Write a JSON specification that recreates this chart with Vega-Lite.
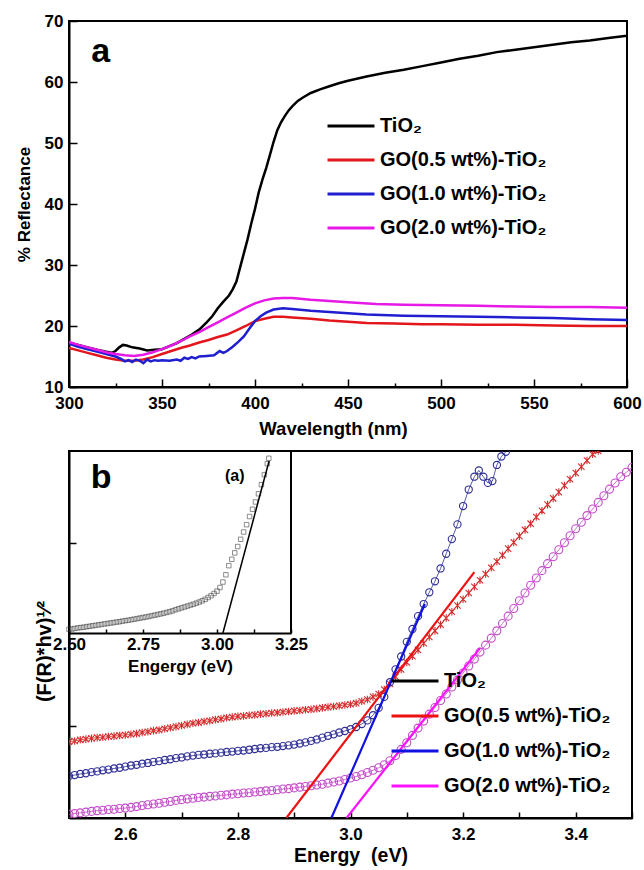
{
"$schema": "https://vega.github.io/schema/vega-lite/v6.json",
"bounds": "flush",
"spacing": 64,
"padding": {"left": 14, "top": 11, "right": 0, "bottom": 0},
"resolve": {"scale": {"color": "independent", "stroke": "independent"}, "legend": {"color": "independent"}},
"config": {
  "font": "Liberation Sans",
  "view": {"stroke": "#000", "strokeWidth": 2},
  "axis": {"grid": false, "domainColor": "#000", "domainWidth": 2, "tickColor": "#000", "tickWidth": 1.5,
    "labelFont": "Liberation Sans", "labelFontWeight": "bold", "labelFontSize": 17, "labelColor": "#000",
    "titleFont": "Liberation Sans", "titleFontWeight": "bold", "titleFontSize": 17, "titleColor": "#000",
    "labelFlush": false, "labelOverlap": false}
},
"datasets": {
"refl": [
{"s":"TiO₂","x":300,"y":17.25},{"s":"TiO₂","x":305,"y":16.9},{"s":"TiO₂","x":310,"y":16.5},{"s":"TiO₂","x":315,"y":16.1},{"s":"TiO₂","x":320,"y":15.8},{"s":"TiO₂","x":323,"y":15.6},{"s":"TiO₂","x":325,"y":15.9},{"s":"TiO₂","x":327,"y":16.5},{"s":"TiO₂","x":329,"y":16.9},{"s":"TiO₂","x":331,"y":16.8},{"s":"TiO₂","x":334,"y":16.5},{"s":"TiO₂","x":338,"y":16.3},{"s":"TiO₂","x":342,"y":16.0},{"s":"TiO₂","x":346,"y":16.1},{"s":"TiO₂","x":350,"y":16.2},{"s":"TiO₂","x":354,"y":16.7},{"s":"TiO₂","x":358,"y":17.2},{"s":"TiO₂","x":362,"y":17.9},{"s":"TiO₂","x":366,"y":18.6},{"s":"TiO₂","x":370,"y":19.4},{"s":"TiO₂","x":374,"y":20.6},{"s":"TiO₂","x":377,"y":21.6},{"s":"TiO₂","x":380,"y":22.9},{"s":"TiO₂","x":383,"y":24.0},{"s":"TiO₂","x":386,"y":25.0},{"s":"TiO₂","x":388,"y":26.0},{"s":"TiO₂","x":390,"y":27.3},{"s":"TiO₂","x":392,"y":29.6},{"s":"TiO₂","x":394,"y":31.9},{"s":"TiO₂","x":396,"y":34.2},{"s":"TiO₂","x":398,"y":36.8},{"s":"TiO₂","x":400,"y":39.2},{"s":"TiO₂","x":402,"y":41.9},{"s":"TiO₂","x":404,"y":44.0},{"s":"TiO₂","x":406,"y":45.9},{"s":"TiO₂","x":408,"y":48.0},{"s":"TiO₂","x":410,"y":50.2},{"s":"TiO₂","x":412,"y":52.1},{"s":"TiO₂","x":414,"y":53.4},{"s":"TiO₂","x":416,"y":54.4},{"s":"TiO₂","x":418,"y":55.3},{"s":"TiO₂","x":420,"y":56.0},{"s":"TiO₂","x":423,"y":56.9},{"s":"TiO₂","x":426,"y":57.5},{"s":"TiO₂","x":430,"y":58.2},{"s":"TiO₂","x":435,"y":58.8},{"s":"TiO₂","x":440,"y":59.3},{"s":"TiO₂","x":445,"y":59.8},{"s":"TiO₂","x":450,"y":60.2},{"s":"TiO₂","x":460,"y":60.9},{"s":"TiO₂","x":470,"y":61.5},{"s":"TiO₂","x":480,"y":62.0},{"s":"TiO₂","x":490,"y":62.6},{"s":"TiO₂","x":500,"y":63.2},{"s":"TiO₂","x":510,"y":63.8},{"s":"TiO₂","x":520,"y":64.3},{"s":"TiO₂","x":530,"y":64.9},{"s":"TiO₂","x":540,"y":65.3},{"s":"TiO₂","x":550,"y":65.7},{"s":"TiO₂","x":560,"y":66.1},{"s":"TiO₂","x":570,"y":66.5},{"s":"TiO₂","x":580,"y":66.8},{"s":"TiO₂","x":590,"y":67.2},{"s":"TiO₂","x":600,"y":67.6},
{"s":"GO(0.5 wt%)-TiO₂","x":300,"y":16.4},{"s":"GO(0.5 wt%)-TiO₂","x":305,"y":16.0},{"s":"GO(0.5 wt%)-TiO₂","x":310,"y":15.6},{"s":"GO(0.5 wt%)-TiO₂","x":315,"y":15.2},{"s":"GO(0.5 wt%)-TiO₂","x":320,"y":14.8},{"s":"GO(0.5 wt%)-TiO₂","x":325,"y":14.5},{"s":"GO(0.5 wt%)-TiO₂","x":330,"y":14.3},{"s":"GO(0.5 wt%)-TiO₂","x":335,"y":14.3},{"s":"GO(0.5 wt%)-TiO₂","x":340,"y":14.5},{"s":"GO(0.5 wt%)-TiO₂","x":345,"y":14.9},{"s":"GO(0.5 wt%)-TiO₂","x":350,"y":15.4},{"s":"GO(0.5 wt%)-TiO₂","x":355,"y":15.9},{"s":"GO(0.5 wt%)-TiO₂","x":360,"y":16.4},{"s":"GO(0.5 wt%)-TiO₂","x":365,"y":16.8},{"s":"GO(0.5 wt%)-TiO₂","x":370,"y":17.3},{"s":"GO(0.5 wt%)-TiO₂","x":375,"y":17.7},{"s":"GO(0.5 wt%)-TiO₂","x":380,"y":18.2},{"s":"GO(0.5 wt%)-TiO₂","x":385,"y":18.6},{"s":"GO(0.5 wt%)-TiO₂","x":390,"y":19.3},{"s":"GO(0.5 wt%)-TiO₂","x":395,"y":20.0},{"s":"GO(0.5 wt%)-TiO₂","x":400,"y":20.8},{"s":"GO(0.5 wt%)-TiO₂","x":405,"y":21.2},{"s":"GO(0.5 wt%)-TiO₂","x":410,"y":21.5},{"s":"GO(0.5 wt%)-TiO₂","x":415,"y":21.5},{"s":"GO(0.5 wt%)-TiO₂","x":420,"y":21.4},{"s":"GO(0.5 wt%)-TiO₂","x":430,"y":21.2},{"s":"GO(0.5 wt%)-TiO₂","x":440,"y":20.9},{"s":"GO(0.5 wt%)-TiO₂","x":450,"y":20.7},{"s":"GO(0.5 wt%)-TiO₂","x":460,"y":20.5},{"s":"GO(0.5 wt%)-TiO₂","x":475,"y":20.4},{"s":"GO(0.5 wt%)-TiO₂","x":490,"y":20.3},{"s":"GO(0.5 wt%)-TiO₂","x":500,"y":20.3},{"s":"GO(0.5 wt%)-TiO₂","x":520,"y":20.2},{"s":"GO(0.5 wt%)-TiO₂","x":540,"y":20.2},{"s":"GO(0.5 wt%)-TiO₂","x":560,"y":20.1},{"s":"GO(0.5 wt%)-TiO₂","x":580,"y":20.0},{"s":"GO(0.5 wt%)-TiO₂","x":600,"y":20.0},
{"s":"GO(1.0 wt%)-TiO₂","x":300,"y":17.1},{"s":"GO(1.0 wt%)-TiO₂","x":305,"y":16.6},{"s":"GO(1.0 wt%)-TiO₂","x":310,"y":16.2},{"s":"GO(1.0 wt%)-TiO₂","x":315,"y":15.8},{"s":"GO(1.0 wt%)-TiO₂","x":320,"y":15.4},{"s":"GO(1.0 wt%)-TiO₂","x":325,"y":15.0},{"s":"GO(1.0 wt%)-TiO₂","x":328,"y":14.6},{"s":"GO(1.0 wt%)-TiO₂","x":330,"y":14.2},{"s":"GO(1.0 wt%)-TiO₂","x":332,"y":14.4},{"s":"GO(1.0 wt%)-TiO₂","x":334,"y":14.1},{"s":"GO(1.0 wt%)-TiO₂","x":336,"y":14.5},{"s":"GO(1.0 wt%)-TiO₂","x":338,"y":14.3},{"s":"GO(1.0 wt%)-TiO₂","x":340,"y":13.9},{"s":"GO(1.0 wt%)-TiO₂","x":342,"y":14.5},{"s":"GO(1.0 wt%)-TiO₂","x":344,"y":14.2},{"s":"GO(1.0 wt%)-TiO₂","x":346,"y":14.4},{"s":"GO(1.0 wt%)-TiO₂","x":348,"y":14.3},{"s":"GO(1.0 wt%)-TiO₂","x":350,"y":14.4},{"s":"GO(1.0 wt%)-TiO₂","x":354,"y":14.3},{"s":"GO(1.0 wt%)-TiO₂","x":358,"y":14.5},{"s":"GO(1.0 wt%)-TiO₂","x":360,"y":14.3},{"s":"GO(1.0 wt%)-TiO₂","x":362,"y":14.8},{"s":"GO(1.0 wt%)-TiO₂","x":364,"y":14.6},{"s":"GO(1.0 wt%)-TiO₂","x":366,"y":14.9},{"s":"GO(1.0 wt%)-TiO₂","x":368,"y":14.7},{"s":"GO(1.0 wt%)-TiO₂","x":370,"y":15.0},{"s":"GO(1.0 wt%)-TiO₂","x":374,"y":15.1},{"s":"GO(1.0 wt%)-TiO₂","x":378,"y":15.2},{"s":"GO(1.0 wt%)-TiO₂","x":381,"y":15.9},{"s":"GO(1.0 wt%)-TiO₂","x":383,"y":15.6},{"s":"GO(1.0 wt%)-TiO₂","x":385,"y":15.9},{"s":"GO(1.0 wt%)-TiO₂","x":388,"y":16.6},{"s":"GO(1.0 wt%)-TiO₂","x":391,"y":17.4},{"s":"GO(1.0 wt%)-TiO₂","x":394,"y":18.3},{"s":"GO(1.0 wt%)-TiO₂","x":397,"y":19.6},{"s":"GO(1.0 wt%)-TiO₂","x":400,"y":20.8},{"s":"GO(1.0 wt%)-TiO₂","x":403,"y":21.6},{"s":"GO(1.0 wt%)-TiO₂","x":406,"y":22.2},{"s":"GO(1.0 wt%)-TiO₂","x":410,"y":22.7},{"s":"GO(1.0 wt%)-TiO₂","x":415,"y":22.9},{"s":"GO(1.0 wt%)-TiO₂","x":420,"y":22.8},{"s":"GO(1.0 wt%)-TiO₂","x":430,"y":22.5},{"s":"GO(1.0 wt%)-TiO₂","x":440,"y":22.3},{"s":"GO(1.0 wt%)-TiO₂","x":450,"y":22.1},{"s":"GO(1.0 wt%)-TiO₂","x":460,"y":21.9},{"s":"GO(1.0 wt%)-TiO₂","x":480,"y":21.7},{"s":"GO(1.0 wt%)-TiO₂","x":500,"y":21.6},{"s":"GO(1.0 wt%)-TiO₂","x":520,"y":21.5},{"s":"GO(1.0 wt%)-TiO₂","x":540,"y":21.4},{"s":"GO(1.0 wt%)-TiO₂","x":560,"y":21.3},{"s":"GO(1.0 wt%)-TiO₂","x":580,"y":21.1},{"s":"GO(1.0 wt%)-TiO₂","x":600,"y":21.0},
{"s":"GO(2.0 wt%)-TiO₂","x":300,"y":17.4},{"s":"GO(2.0 wt%)-TiO₂","x":305,"y":16.9},{"s":"GO(2.0 wt%)-TiO₂","x":310,"y":16.5},{"s":"GO(2.0 wt%)-TiO₂","x":315,"y":16.1},{"s":"GO(2.0 wt%)-TiO₂","x":320,"y":15.7},{"s":"GO(2.0 wt%)-TiO₂","x":325,"y":15.4},{"s":"GO(2.0 wt%)-TiO₂","x":330,"y":15.2},{"s":"GO(2.0 wt%)-TiO₂","x":335,"y":15.1},{"s":"GO(2.0 wt%)-TiO₂","x":340,"y":15.3},{"s":"GO(2.0 wt%)-TiO₂","x":345,"y":15.7},{"s":"GO(2.0 wt%)-TiO₂","x":350,"y":16.2},{"s":"GO(2.0 wt%)-TiO₂","x":355,"y":16.8},{"s":"GO(2.0 wt%)-TiO₂","x":360,"y":17.5},{"s":"GO(2.0 wt%)-TiO₂","x":365,"y":18.3},{"s":"GO(2.0 wt%)-TiO₂","x":370,"y":19.0},{"s":"GO(2.0 wt%)-TiO₂","x":375,"y":19.8},{"s":"GO(2.0 wt%)-TiO₂","x":380,"y":20.6},{"s":"GO(2.0 wt%)-TiO₂","x":385,"y":21.4},{"s":"GO(2.0 wt%)-TiO₂","x":390,"y":22.2},{"s":"GO(2.0 wt%)-TiO₂","x":395,"y":23.0},{"s":"GO(2.0 wt%)-TiO₂","x":400,"y":23.7},{"s":"GO(2.0 wt%)-TiO₂","x":405,"y":24.2},{"s":"GO(2.0 wt%)-TiO₂","x":410,"y":24.5},{"s":"GO(2.0 wt%)-TiO₂","x":415,"y":24.6},{"s":"GO(2.0 wt%)-TiO₂","x":420,"y":24.6},{"s":"GO(2.0 wt%)-TiO₂","x":430,"y":24.3},{"s":"GO(2.0 wt%)-TiO₂","x":440,"y":24.1},{"s":"GO(2.0 wt%)-TiO₂","x":450,"y":23.9},{"s":"GO(2.0 wt%)-TiO₂","x":465,"y":23.6},{"s":"GO(2.0 wt%)-TiO₂","x":480,"y":23.5},{"s":"GO(2.0 wt%)-TiO₂","x":500,"y":23.4},{"s":"GO(2.0 wt%)-TiO₂","x":520,"y":23.3},{"s":"GO(2.0 wt%)-TiO₂","x":540,"y":23.2},{"s":"GO(2.0 wt%)-TiO₂","x":560,"y":23.1},{"s":"GO(2.0 wt%)-TiO₂","x":580,"y":23.1},{"s":"GO(2.0 wt%)-TiO₂","x":600,"y":23.0}
],
"km": [
{"s":"a","x":2.50,"y":2.08},{"s":"a","x":2.51,"y":2.1},{"s":"a","x":2.52,"y":2.13},{"s":"a","x":2.53,"y":2.15},{"s":"a","x":2.54,"y":2.17},{"s":"a","x":2.55,"y":2.19},{"s":"a","x":2.56,"y":2.2},{"s":"a","x":2.57,"y":2.22},{"s":"a","x":2.58,"y":2.23},{"s":"a","x":2.59,"y":2.25},{"s":"a","x":2.60,"y":2.26},{"s":"a","x":2.61,"y":2.28},{"s":"a","x":2.62,"y":2.3},{"s":"a","x":2.63,"y":2.33},{"s":"a","x":2.64,"y":2.35},{"s":"a","x":2.65,"y":2.38},{"s":"a","x":2.66,"y":2.4},{"s":"a","x":2.67,"y":2.43},{"s":"a","x":2.68,"y":2.46},{"s":"a","x":2.69,"y":2.49},{"s":"a","x":2.70,"y":2.52},{"s":"a","x":2.71,"y":2.55},{"s":"a","x":2.72,"y":2.58},{"s":"a","x":2.73,"y":2.6},{"s":"a","x":2.74,"y":2.63},{"s":"a","x":2.75,"y":2.65},{"s":"a","x":2.76,"y":2.68},{"s":"a","x":2.77,"y":2.7},{"s":"a","x":2.78,"y":2.73},{"s":"a","x":2.79,"y":2.75},{"s":"a","x":2.80,"y":2.77},{"s":"a","x":2.81,"y":2.78},{"s":"a","x":2.82,"y":2.8},{"s":"a","x":2.83,"y":2.81},{"s":"a","x":2.84,"y":2.83},{"s":"a","x":2.85,"y":2.84},{"s":"a","x":2.86,"y":2.86},{"s":"a","x":2.87,"y":2.87},{"s":"a","x":2.88,"y":2.89},{"s":"a","x":2.89,"y":2.9},{"s":"a","x":2.90,"y":2.92},{"s":"a","x":2.91,"y":2.93},{"s":"a","x":2.92,"y":2.95},{"s":"a","x":2.93,"y":2.96},{"s":"a","x":2.94,"y":2.98},{"s":"a","x":2.95,"y":3.0},{"s":"a","x":2.96,"y":3.02},{"s":"a","x":2.97,"y":3.04},{"s":"a","x":2.98,"y":3.06},{"s":"a","x":2.99,"y":3.08},{"s":"a","x":3.00,"y":3.1},{"s":"a","x":3.01,"y":3.13},{"s":"a","x":3.02,"y":3.18},{"s":"a","x":3.03,"y":3.23},{"s":"a","x":3.04,"y":3.3},{"s":"a","x":3.05,"y":3.38},{"s":"a","x":3.06,"y":3.5},{"s":"a","x":3.07,"y":3.66},{"s":"a","x":3.08,"y":3.85},{"s":"a","x":3.09,"y":4.05},{"s":"a","x":3.10,"y":4.24},{"s":"a","x":3.11,"y":4.41},{"s":"a","x":3.12,"y":4.58},{"s":"a","x":3.13,"y":4.76},{"s":"a","x":3.14,"y":4.93},{"s":"a","x":3.15,"y":5.1},{"s":"a","x":3.16,"y":5.27},{"s":"a","x":3.17,"y":5.45},{"s":"a","x":3.18,"y":5.62},{"s":"a","x":3.19,"y":5.79},{"s":"a","x":3.20,"y":5.96},{"s":"a","x":3.21,"y":6.13},{"s":"a","x":3.22,"y":6.3},{"s":"a","x":3.23,"y":6.48},{"s":"a","x":3.24,"y":6.65},{"s":"a","x":3.25,"y":6.82},{"s":"a","x":3.26,"y":6.99},{"s":"a","x":3.27,"y":7.16},{"s":"a","x":3.28,"y":7.34},{"s":"a","x":3.29,"y":7.51},{"s":"a","x":3.30,"y":7.68},{"s":"a","x":3.31,"y":7.85},{"s":"a","x":3.32,"y":8.02},{"s":"a","x":3.33,"y":8.2},{"s":"a","x":3.34,"y":8.37},{"s":"a","x":3.35,"y":8.54},{"s":"a","x":3.36,"y":8.71},{"s":"a","x":3.37,"y":8.88},{"s":"a","x":3.38,"y":9.06},{"s":"a","x":3.39,"y":9.23},{"s":"a","x":3.40,"y":9.4},{"s":"a","x":3.41,"y":9.57},{"s":"a","x":3.42,"y":9.74},{"s":"a","x":3.43,"y":9.91},{"s":"a","x":3.44,"y":10.0},
{"s":"b","x":2.50,"y":1.14},{"s":"b","x":2.51,"y":1.17},{"s":"b","x":2.52,"y":1.2},{"s":"b","x":2.53,"y":1.22},{"s":"b","x":2.54,"y":1.25},{"s":"b","x":2.55,"y":1.27},{"s":"b","x":2.56,"y":1.3},{"s":"b","x":2.57,"y":1.32},{"s":"b","x":2.58,"y":1.35},{"s":"b","x":2.59,"y":1.37},{"s":"b","x":2.60,"y":1.4},{"s":"b","x":2.61,"y":1.43},{"s":"b","x":2.62,"y":1.45},{"s":"b","x":2.63,"y":1.48},{"s":"b","x":2.64,"y":1.5},{"s":"b","x":2.65,"y":1.53},{"s":"b","x":2.66,"y":1.55},{"s":"b","x":2.67,"y":1.58},{"s":"b","x":2.68,"y":1.6},{"s":"b","x":2.69,"y":1.63},{"s":"b","x":2.70,"y":1.65},{"s":"b","x":2.71,"y":1.68},{"s":"b","x":2.72,"y":1.7},{"s":"b","x":2.73,"y":1.72},{"s":"b","x":2.74,"y":1.73},{"s":"b","x":2.75,"y":1.75},{"s":"b","x":2.76,"y":1.76},{"s":"b","x":2.77,"y":1.78},{"s":"b","x":2.78,"y":1.8},{"s":"b","x":2.79,"y":1.81},{"s":"b","x":2.80,"y":1.83},{"s":"b","x":2.81,"y":1.84},{"s":"b","x":2.82,"y":1.86},{"s":"b","x":2.83,"y":1.88},{"s":"b","x":2.84,"y":1.9},{"s":"b","x":2.85,"y":1.91},{"s":"b","x":2.86,"y":1.93},{"s":"b","x":2.87,"y":1.94},{"s":"b","x":2.88,"y":1.96},{"s":"b","x":2.89,"y":1.98},{"s":"b","x":2.90,"y":2.0},{"s":"b","x":2.91,"y":2.03},{"s":"b","x":2.92,"y":2.06},{"s":"b","x":2.93,"y":2.1},{"s":"b","x":2.94,"y":2.14},{"s":"b","x":2.95,"y":2.19},{"s":"b","x":2.96,"y":2.24},{"s":"b","x":2.97,"y":2.28},{"s":"b","x":2.98,"y":2.33},{"s":"b","x":2.99,"y":2.37},{"s":"b","x":3.00,"y":2.42},{"s":"b","x":3.01,"y":2.48},{"s":"b","x":3.02,"y":2.56},{"s":"b","x":3.03,"y":2.66},{"s":"b","x":3.04,"y":2.8},{"s":"b","x":3.05,"y":3.0},{"s":"b","x":3.06,"y":3.3},{"s":"b","x":3.07,"y":3.7},{"s":"b","x":3.08,"y":4.05},{"s":"b","x":3.09,"y":4.4},{"s":"b","x":3.10,"y":4.8},{"s":"b","x":3.11,"y":5.15},{"s":"b","x":3.12,"y":5.5},{"s":"b","x":3.13,"y":5.83},{"s":"b","x":3.14,"y":6.15},{"s":"b","x":3.15,"y":6.45},{"s":"b","x":3.16,"y":6.8},{"s":"b","x":3.17,"y":7.2},{"s":"b","x":3.18,"y":7.6},{"s":"b","x":3.19,"y":8.0},{"s":"b","x":3.20,"y":8.5},{"s":"b","x":3.21,"y":8.95},{"s":"b","x":3.22,"y":9.3},{"s":"b","x":3.228,"y":9.47},{"s":"b","x":3.236,"y":9.3},{"s":"b","x":3.244,"y":9.13},{"s":"b","x":3.252,"y":9.18},{"s":"b","x":3.26,"y":9.62},{"s":"b","x":3.268,"y":9.85},{"s":"b","x":3.276,"y":9.98},
{"s":"c","x":2.50,"y":0.1},{"s":"c","x":2.51,"y":0.12},{"s":"c","x":2.52,"y":0.14},{"s":"c","x":2.53,"y":0.16},{"s":"c","x":2.54,"y":0.18},{"s":"c","x":2.55,"y":0.2},{"s":"c","x":2.56,"y":0.21},{"s":"c","x":2.57,"y":0.23},{"s":"c","x":2.58,"y":0.24},{"s":"c","x":2.59,"y":0.26},{"s":"c","x":2.60,"y":0.27},{"s":"c","x":2.61,"y":0.29},{"s":"c","x":2.62,"y":0.31},{"s":"c","x":2.63,"y":0.34},{"s":"c","x":2.64,"y":0.36},{"s":"c","x":2.65,"y":0.38},{"s":"c","x":2.66,"y":0.4},{"s":"c","x":2.67,"y":0.43},{"s":"c","x":2.68,"y":0.45},{"s":"c","x":2.69,"y":0.48},{"s":"c","x":2.70,"y":0.5},{"s":"c","x":2.71,"y":0.52},{"s":"c","x":2.72,"y":0.54},{"s":"c","x":2.73,"y":0.56},{"s":"c","x":2.74,"y":0.57},{"s":"c","x":2.75,"y":0.59},{"s":"c","x":2.76,"y":0.6},{"s":"c","x":2.77,"y":0.62},{"s":"c","x":2.78,"y":0.63},{"s":"c","x":2.79,"y":0.65},{"s":"c","x":2.80,"y":0.66},{"s":"c","x":2.81,"y":0.68},{"s":"c","x":2.82,"y":0.69},{"s":"c","x":2.83,"y":0.71},{"s":"c","x":2.84,"y":0.72},{"s":"c","x":2.85,"y":0.74},{"s":"c","x":2.86,"y":0.75},{"s":"c","x":2.87,"y":0.77},{"s":"c","x":2.88,"y":0.79},{"s":"c","x":2.89,"y":0.8},{"s":"c","x":2.90,"y":0.82},{"s":"c","x":2.91,"y":0.84},{"s":"c","x":2.92,"y":0.86},{"s":"c","x":2.93,"y":0.88},{"s":"c","x":2.94,"y":0.9},{"s":"c","x":2.95,"y":0.92},{"s":"c","x":2.96,"y":0.95},{"s":"c","x":2.97,"y":0.98},{"s":"c","x":2.98,"y":1.01},{"s":"c","x":2.99,"y":1.05},{"s":"c","x":3.00,"y":1.09},{"s":"c","x":3.01,"y":1.13},{"s":"c","x":3.02,"y":1.18},{"s":"c","x":3.03,"y":1.24},{"s":"c","x":3.04,"y":1.3},{"s":"c","x":3.05,"y":1.37},{"s":"c","x":3.06,"y":1.45},{"s":"c","x":3.07,"y":1.56},{"s":"c","x":3.08,"y":1.7},{"s":"c","x":3.09,"y":1.87},{"s":"c","x":3.10,"y":2.05},{"s":"c","x":3.11,"y":2.25},{"s":"c","x":3.12,"y":2.45},{"s":"c","x":3.13,"y":2.64},{"s":"c","x":3.14,"y":2.83},{"s":"c","x":3.15,"y":3.01},{"s":"c","x":3.16,"y":3.2},{"s":"c","x":3.17,"y":3.38},{"s":"c","x":3.18,"y":3.57},{"s":"c","x":3.19,"y":3.76},{"s":"c","x":3.20,"y":3.95},{"s":"c","x":3.21,"y":4.14},{"s":"c","x":3.22,"y":4.33},{"s":"c","x":3.23,"y":4.52},{"s":"c","x":3.24,"y":4.71},{"s":"c","x":3.25,"y":4.9},{"s":"c","x":3.26,"y":5.1},{"s":"c","x":3.27,"y":5.3},{"s":"c","x":3.28,"y":5.5},{"s":"c","x":3.29,"y":5.71},{"s":"c","x":3.30,"y":5.92},{"s":"c","x":3.31,"y":6.13},{"s":"c","x":3.32,"y":6.34},{"s":"c","x":3.33,"y":6.54},{"s":"c","x":3.34,"y":6.74},{"s":"c","x":3.35,"y":6.93},{"s":"c","x":3.36,"y":7.12},{"s":"c","x":3.37,"y":7.31},{"s":"c","x":3.38,"y":7.5},{"s":"c","x":3.39,"y":7.69},{"s":"c","x":3.40,"y":7.88},{"s":"c","x":3.41,"y":8.06},{"s":"c","x":3.42,"y":8.24},{"s":"c","x":3.43,"y":8.42},{"s":"c","x":3.44,"y":8.6},{"s":"c","x":3.45,"y":8.78},{"s":"c","x":3.46,"y":8.96},{"s":"c","x":3.47,"y":9.13},{"s":"c","x":3.48,"y":9.3},{"s":"c","x":3.49,"y":9.42},{"s":"c","x":3.50,"y":9.55}
],
"fit": [
{"g":"GO(0.5 wt%)-TiO₂","x":2.886,"y":0},{"g":"GO(0.5 wt%)-TiO₂","x":3.22,"y":6.7},
{"g":"GO(1.0 wt%)-TiO₂","x":2.966,"y":0},{"g":"GO(1.0 wt%)-TiO₂","x":3.132,"y":5.83},
{"g":"GO(2.0 wt%)-TiO₂","x":2.993,"y":0},{"g":"GO(2.0 wt%)-TiO₂","x":3.23,"y":4.63}
],
"ins": [
{"x":2.50,"y":0.2},{"x":2.51,"y":0.22},{"x":2.52,"y":0.25},{"x":2.53,"y":0.28},{"x":2.54,"y":0.3},{"x":2.55,"y":0.32},{"x":2.56,"y":0.35},{"x":2.57,"y":0.37},{"x":2.58,"y":0.4},{"x":2.59,"y":0.42},{"x":2.60,"y":0.45},{"x":2.61,"y":0.47},{"x":2.62,"y":0.5},{"x":2.63,"y":0.52},{"x":2.64,"y":0.55},{"x":2.65,"y":0.57},{"x":2.66,"y":0.6},{"x":2.67,"y":0.62},{"x":2.68,"y":0.65},{"x":2.69,"y":0.68},{"x":2.70,"y":0.7},{"x":2.71,"y":0.73},{"x":2.72,"y":0.76},{"x":2.73,"y":0.79},{"x":2.74,"y":0.82},{"x":2.75,"y":0.85},{"x":2.76,"y":0.88},{"x":2.77,"y":0.91},{"x":2.78,"y":0.95},{"x":2.79,"y":0.98},{"x":2.80,"y":1.02},{"x":2.81,"y":1.05},{"x":2.82,"y":1.09},{"x":2.83,"y":1.13},{"x":2.84,"y":1.17},{"x":2.85,"y":1.22},{"x":2.86,"y":1.28},{"x":2.87,"y":1.33},{"x":2.88,"y":1.38},{"x":2.89,"y":1.43},{"x":2.90,"y":1.48},{"x":2.91,"y":1.53},{"x":2.92,"y":1.58},{"x":2.93,"y":1.64},{"x":2.94,"y":1.7},{"x":2.95,"y":1.77},{"x":2.96,"y":1.85},{"x":2.97,"y":1.95},{"x":2.98,"y":2.05},{"x":2.99,"y":2.17},{"x":3.00,"y":2.3},{"x":3.01,"y":2.5},{"x":3.02,"y":2.8},{"x":3.03,"y":3.2},{"x":3.04,"y":3.7},{"x":3.05,"y":4.05},{"x":3.06,"y":4.4},{"x":3.07,"y":4.75},{"x":3.08,"y":5.15},{"x":3.09,"y":5.55},{"x":3.10,"y":5.95},{"x":3.11,"y":6.4},{"x":3.12,"y":6.8},{"x":3.13,"y":7.2},{"x":3.14,"y":7.65},{"x":3.15,"y":8.15},{"x":3.16,"y":8.7},{"x":3.17,"y":9.3},{"x":3.175,"y":9.6}
],
"insFit": [{"x":3.02,"y":0},{"x":3.176,"y":9.45}],
"insFrame": [{"x":3.25,"y":0,"y2":10}]
},
"vconcat": [
{
  "width": 558, "height": 366,
  "layer": [
    {"data": {"name": "refl"},
     "mark": {"type": "line", "strokeWidth": 2.5, "clip": true},
     "encoding": {
       "x": {"field": "x", "type": "quantitative", "scale": {"domain": [300, 600], "nice": false, "zero": false},
         "axis": {"title": "Wavelength (nm)", "titleFontSize": 18.5, "titleX": 264, "values": [300,325,350,375,400,425,450,475,500,525,550,575,600],
           "labelExpr": "datum.value % 50 === 0 ? datum.label : ''",
           "tickSize": {"condition": {"test": "datum.value % 50 === 0", "value": -8}, "value": -4},
           "labelPadding": 16, "titlePadding": 4}},
       "y": {"field": "y", "type": "quantitative", "scale": {"domain": [10, 70], "nice": false, "zero": false},
         "axis": {"title": "% Reflectance", "values": [10,15,20,25,30,35,40,45,50,55,60,65,70],
           "labelExpr": "datum.value % 10 === 0 ? datum.label : ''",
           "tickSize": {"condition": {"test": "datum.value % 10 === 0", "value": -8}, "value": -4},
           "labelPadding": 14, "titlePadding": 11}},
       "color": {"field": "s", "type": "nominal",
         "scale": {"domain": ["TiO₂", "GO(0.5 wt%)-TiO₂", "GO(1.0 wt%)-TiO₂", "GO(2.0 wt%)-TiO₂"], "range": ["#000000", "#e3161c", "#1f1fd0", "#e619e6"]},
         "legend": {"orient": "none", "legendX": 272, "legendY": 95, "title": null, "symbolType": "M-3,0H3", "symbolSize": 245, "symbolStrokeWidth": 3,
           "labelFont": "Liberation Sans", "labelFontWeight": "bold", "labelFontSize": 20, "labelColor": "#000", "labelOffset": 19, "labelLimit": 400, "rowPadding": 14}}
     }},
    {"data": {"values": [{"x": 317, "y": 63.3, "t": "a"}]},
     "mark": {"type": "text", "font": "Liberation Sans", "fontWeight": "bold", "fontSize": 34, "baseline": "alphabetic", "align": "center"},
     "encoding": {"x": {"field": "x", "type": "quantitative"}, "y": {"field": "y", "type": "quantitative"}, "text": {"field": "t"}}}
  ]
},
{
  "width": 563, "height": 367,
  "layer": [
    {"layer": [
      {"data": {"name": "km"},
       "mark": {"type": "line", "strokeWidth": 0.8, "clip": true},
       "encoding": {
         "x": {"field": "x", "type": "quantitative", "scale": {"domain": [2.5, 3.5], "nice": false, "zero": false},
           "axis": {"title": "Energy\u00a0 (eV)", "titleFontSize": 19.5, "values": [2.5,2.6,2.7,2.8,2.9,3.0,3.1,3.2,3.3,3.4,3.5],
             "labelExpr": "round(datum.value*10) % 2 === 0 ? format(datum.value, '.1f') : ''",
             "tickSize": -6, "labelPadding": 14, "titlePadding": 4}},
         "y": {"field": "y", "type": "quantitative", "scale": {"domain": [0, 10], "nice": false, "zero": false},
           "axis": {"title": "(F(R)*hv)¹⁄²", "titleFontSize": 20, "values": [2.5, 7.5], "labels": false, "tickSize": -7, "titlePadding": 14, "titleY": 200, "titleAlign": "center"}},
         "stroke": {"field": "s", "type": "nominal", "scale": {"domain": ["a", "b", "c"], "range": ["#d42c2c", "#2e2e96", "#c24ac8"]}, "legend": null}
       }},
      {"data": {"name": "km"},
       "mark": {"type": "point", "filled": false, "strokeWidth": 1.1, "clip": true, "opacity": 1},
       "encoding": {
         "x": {"field": "x", "type": "quantitative"},
         "y": {"field": "y", "type": "quantitative"},
         "stroke": {"field": "s", "type": "nominal", "legend": null},
         "shape": {"field": "s", "type": "nominal", "scale": {"domain": ["a", "b", "c"], "range": ["M-1,-1L1,1M-1,1L1,-1M0,-1.2L0,1.2", "circle", "circle"]}, "legend": null},
         "size": {"field": "s", "type": "nominal", "scale": {"domain": ["a", "b", "c"], "range": [40, 64, 110]}, "legend": null}
       }},
      {"data": {"values": [{"x": 2.557, "y": 9.0, "t": "b"}]},
       "mark": {"type": "text", "font": "Liberation Sans", "fontWeight": "bold", "fontSize": 34, "baseline": "alphabetic", "align": "center"},
       "encoding": {"x": {"field": "x", "type": "quantitative"}, "y": {"field": "y", "type": "quantitative"}, "text": {"field": "t"}}}
    ]},
    {"data": {"name": "fit"},
     "mark": {"type": "line", "strokeWidth": 2.2, "clip": true},
     "encoding": {
       "x": {"field": "x", "type": "quantitative", "scale": {"domain": [2.5, 3.5], "nice": false, "zero": false}, "axis": null},
       "y": {"field": "y", "type": "quantitative", "scale": {"domain": [0, 10], "nice": false, "zero": false}, "axis": null},
       "color": {"field": "g", "type": "nominal",
         "scale": {"domain": ["TiO₂", "GO(0.5 wt%)-TiO₂", "GO(1.0 wt%)-TiO₂", "GO(2.0 wt%)-TiO₂"], "range": ["#000000", "#ee1111", "#1010e0", "#ff10ff"]},
         "legend": {"orient": "none", "legendX": 336, "legendY": 220, "title": null, "symbolType": "M-3,0H3", "symbolSize": 245, "symbolStrokeWidth": 3,
           "labelFont": "Liberation Sans", "labelFontWeight": "bold", "labelFontSize": 20, "labelColor": "#000", "labelOffset": 19, "labelLimit": 400, "rowPadding": 15}}
     }},
    {"layer": [
      {"data": {"name": "ins"},
       "mark": {"type": "point", "shape": "square", "filled": false, "size": 20, "strokeWidth": 0.8, "color": "#333"},
       "encoding": {
         "x": {"field": "x", "type": "quantitative", "scale": {"domain": [2.5, 3.25], "range": [0, 222], "nice": false, "zero": false},
           "axis": {"orient": "bottom", "offset": -185, "title": "Engergy (eV)", "values": [2.5,2.625,2.75,2.875,3.0,3.125,3.25],
             "labelExpr": "round(datum.value*1000) % 250 === 0 ? format(datum.value, '.2f') : ''",
             "tickSize": -4, "labelPadding": 7, "titlePadding": 6}},
         "y": {"field": "y", "type": "quantitative", "scale": {"domain": [0, 10], "range": [182, 0], "nice": false, "zero": false}, "axis": null}
       }},
      {"data": {"name": "insFit"},
       "mark": {"type": "line", "color": "#000", "strokeWidth": 1.5},
       "encoding": {"x": {"field": "x", "type": "quantitative"}, "y": {"field": "y", "type": "quantitative"}}},
      {"data": {"name": "insFrame"},
       "mark": {"type": "rule", "color": "#000", "strokeWidth": 2},
       "encoding": {"x": {"field": "x", "type": "quantitative"}, "y": {"field": "y", "type": "quantitative"}, "y2": {"field": "y2"}}},
      {"data": {"values": [{"x": 3.06, "y": 8.35, "t": "(a)"}]},
       "mark": {"type": "text", "font": "Liberation Sans", "fontWeight": "bold", "fontSize": 16, "baseline": "alphabetic", "align": "center"},
       "encoding": {"x": {"field": "x", "type": "quantitative"}, "y": {"field": "y", "type": "quantitative"}, "text": {"field": "t"}}}
    ]}
  ],
  "resolve": {"scale": {"x": "independent", "y": "independent"}}
}
]
}
